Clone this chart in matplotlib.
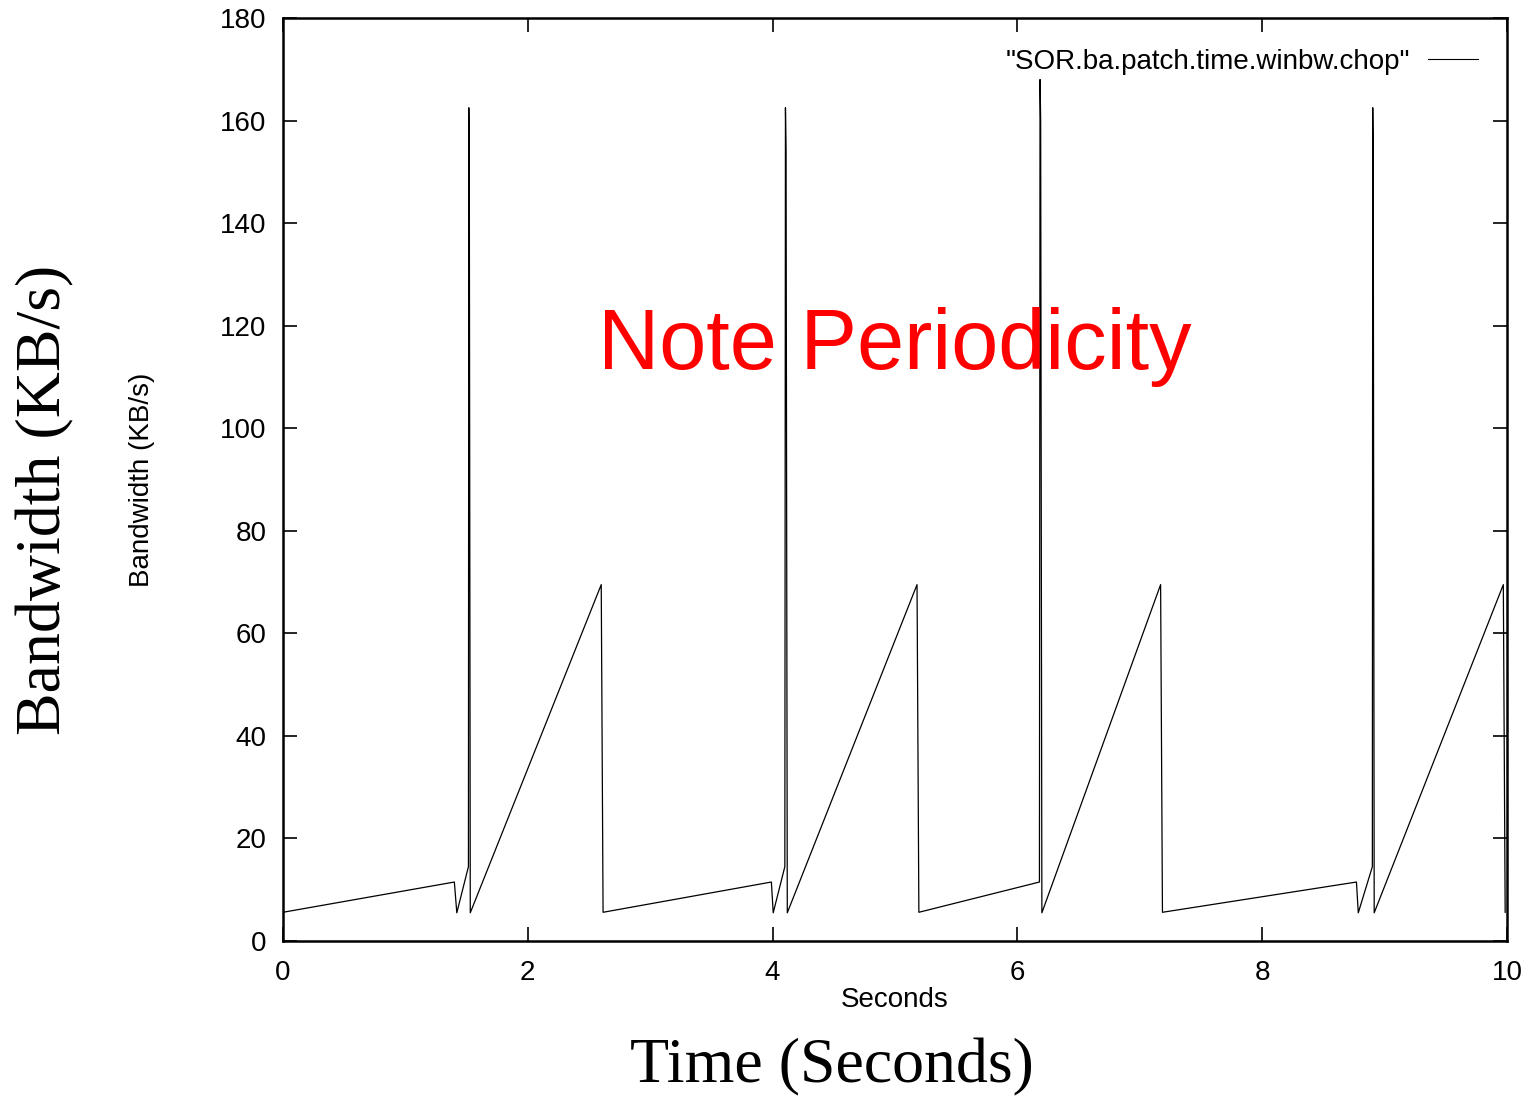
import matplotlib
matplotlib.use("Agg")
import matplotlib.pyplot as plt

# Data (time in s, bandwidth in KB/s)
t = [0.00, 1.40, 1.42, 1.515, 1.518, 1.522, 1.53, 2.60, 2.615,
     3.99, 4.005, 4.10, 4.105, 4.11, 4.12, 5.18, 5.195,
     6.18, 6.185, 6.19, 6.20, 7.17, 7.185,
     8.77, 8.785, 8.90, 8.903, 8.907, 8.915, 9.97, 9.985]
bw = [5.6, 11.5, 5.5, 14.5, 162.5, 154.0, 5.5, 69.5, 5.6,
      11.5, 5.5, 14.5, 162.5, 154.0, 5.5, 69.5, 5.6,
      11.5, 168.0, 160.0, 5.5, 69.5, 5.6,
      11.5, 5.5, 14.5, 162.5, 154.0, 5.5, 69.5, 5.6]

series_label = '"SOR.ba.patch.time.winbw.chop"'
xticks = [0, 2, 4, 6, 8, 10]
yticks = [0, 20, 40, 60, 80, 100, 120, 140, 160, 180]

W, H = 1529, 1097
fig = plt.figure(figsize=(W / 100, H / 100), dpi=100)
ax = fig.add_axes([283 / W, 1 - 941 / H, (1507 - 283) / W, (941 - 18) / H])

sans = "Liberation Sans"
serif = "Liberation Serif"
fs = 20

ax.plot(t, bw, color="black", lw=0.9, label=series_label)
ax.set_xlim(0, 10)
ax.set_ylim(0, 180)
ax.set_xticks(xticks)
ax.set_yticks(yticks)
ax.tick_params(direction="in", length=10, width=1.2, top=True, right=True,
               labelsize=fs)
ax.tick_params(axis="y", pad=12)
ax.tick_params(axis="x", pad=14)
for lab in ax.get_xticklabels() + ax.get_yticklabels():
    lab.set_fontfamily(sans)
for s in ax.spines.values():
    s.set_linewidth(1.8)

ax.set_xlabel("Seconds", fontsize=fs, family=sans)
ax.set_ylabel("Bandwidth (KB/s)", fontsize=fs, family=sans)
ax.xaxis.set_label_coords(0.5, (941 - 987) / 923)
ax.yaxis.set_label_coords((155 - 283) / 1224, 0.5)

leg = ax.legend(loc="upper right", frameon=False, markerfirst=False,
                prop={"family": sans, "size": fs}, handlelength=1.8,
                handletextpad=0.65, borderaxespad=0,
                bbox_to_anchor=((1489 - 283) / 1224, (941 - 38) / 923))
for line in leg.get_lines():
    line.set_linewidth(0.8)

ax.text(5.0, 115.8, "Note Periodicity", color="red", fontsize=61, family=sans,
        ha="center", va="center")

fig.text(45 / W, 1 - 500 / H, "Bandwidth (KB/s)", rotation=90, fontsize=46,
         family=serif, ha="center", va="center")
fig.text(832 / W, 1 - 1067 / H, "Time (Seconds)", fontsize=46, family=serif,
         ha="center", va="center")

fig.savefig("out.png", dpi=100, facecolor="white")
